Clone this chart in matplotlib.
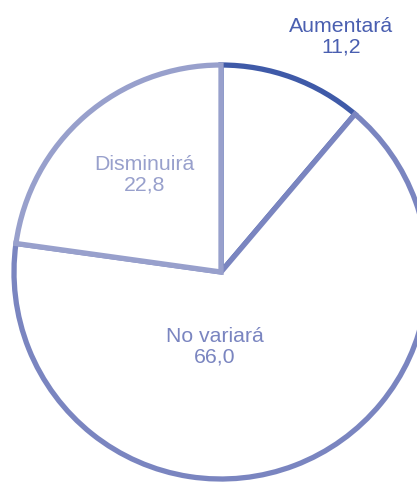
import numpy as np
import matplotlib.pyplot as plt

# Datos
categorias = ["Aumentará", "No variará", "Disminuirá"]
valores = [11.2, 66.0, 22.8]
etiquetas_valor = ["11,2", "66,0", "22,8"]

# Colores del borde de cada sector y del texto
colores = ["#3f5aa8", "#7a85c0", "#98a0cc"]
colores_texto = ["#4a5fb0", "#7a85c0", "#98a0cc"]

# Posicion de las etiquetas (distancia relativa al radio, angulo en grados)
pos_etiquetas = [(1.275, 62.9), (0.363, 265.4), (0.598, 128.4)]

W, H = 417, 484
fig = plt.figure(figsize=(W / 100, H / 100), dpi=100)
ax = fig.add_axes([0, 0, 1, 1])

centro = (221, H - 272)
radio = 207

wedges, _ = ax.pie(valores, startangle=90, counterclock=False,
                   radius=radio, center=centro,
                   colors=["white"] * 3,
                   wedgeprops=dict(linewidth=3.8, joinstyle="miter"))
for w, c in zip(wedges, colores):
    w.set_edgecolor(c)

for nombre, valor, col, (d, ang) in zip(categorias, etiquetas_valor,
                                         colores_texto, pos_etiquetas):
    x = centro[0] + d * radio * np.cos(np.radians(ang))
    y = centro[1] + d * radio * np.sin(np.radians(ang))
    ax.text(x, y, nombre + "\n" + valor, ha="center", va="center",
            color=col, fontsize=15.3, family="Liberation Sans",
            linespacing=1.12)

ax.set_xlim(0, W)
ax.set_ylim(0, H)
ax.set_aspect("equal")
ax.axis("off")

fig.savefig("out.png", dpi=100)
